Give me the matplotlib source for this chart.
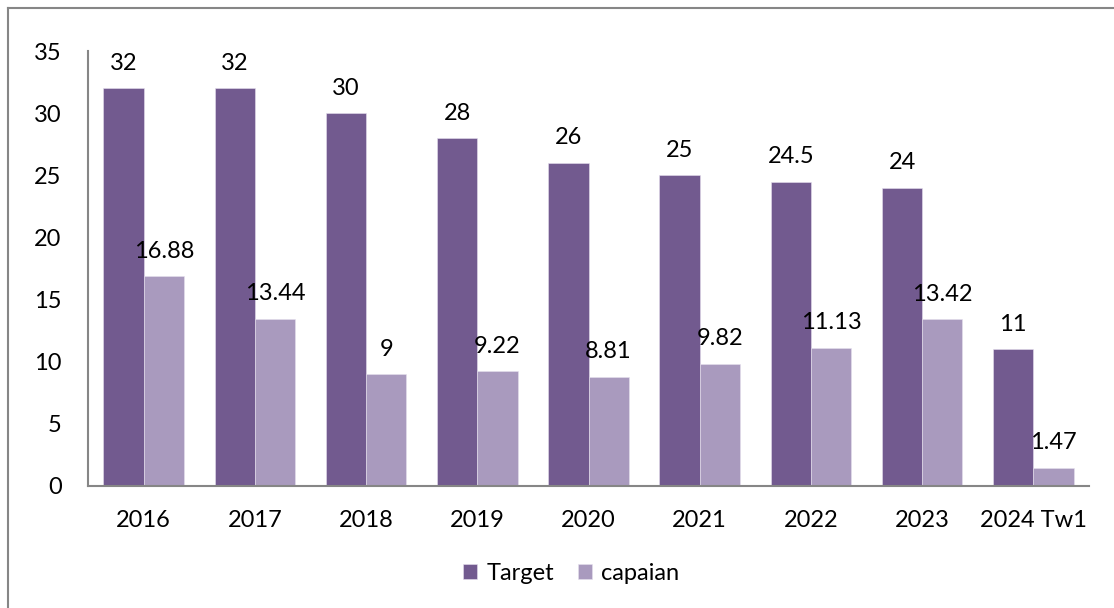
import matplotlib.pyplot as plt
from matplotlib.lines import Line2D
import numpy as np

plt.rcParams['font.family'] = ['Lato', 'DejaVu Sans']

categories = ['2016', '2017', '2018', '2019', '2020', '2021', '2022', '2023', '2024 Tw1']
target = [32, 32, 30, 28, 26, 25, 24.5, 24, 11]
capaian = [16.88, 13.44, 9, 9.22, 8.81, 9.82, 11.13, 13.42, 1.47]

TARGET_COLOR = '#725a8f'
CAPAIAN_COLOR = '#a99abe'
GRID_GRAY = '#868686'
FS = 17


def fmt(v):
    return f'{v:g}'


def main():
    W, H = 1114, 608
    fig = plt.figure(figsize=(W / 100, H / 100), dpi=100)
    ax = fig.add_axes([88 / W, 1 - 486 / H, (1089 - 88) / W, (486 - 51) / H])

    x = np.arange(len(categories))
    bw = 0.3625
    b1 = ax.bar(x - bw / 2, target, bw, color=TARGET_COLOR, label='Target',
                edgecolor='#e6e0ee', linewidth=0.4)
    b2 = ax.bar(x + bw / 2, capaian, bw, color=CAPAIAN_COLOR, label='capaian',
                edgecolor='#e6e0ee', linewidth=0.4)

    for bars, vals in ((b1, target), (b2, capaian)):
        for rect, v in zip(bars, vals):
            ax.annotate(fmt(v), (rect.get_x() + rect.get_width() / 2, v),
                        xytext=(0, 18), textcoords='offset points',
                        ha='center', va='center', fontsize=FS)

    ax.set_xlim(-0.5, len(categories) - 0.5)
    ax.set_ylim(0, 35)
    ax.set_yticks(range(0, 36, 5))
    ax.set_xticks(x)
    ax.set_xticklabels(categories)
    ax.tick_params(axis='both', length=0, labelsize=FS)
    ax.tick_params(axis='y', pad=19)
    ax.tick_params(axis='x', pad=17)

    for s in ('top', 'right'):
        ax.spines[s].set_visible(False)
    for s in ('left', 'bottom'):
        ax.spines[s].set_color(GRID_GRAY)
        ax.spines[s].set_linewidth(1.5)

    ax.legend(loc='center', bbox_to_anchor=(571 / W, 1 - 573 / H),
              bbox_transform=fig.transFigure, ncol=2, frameon=False,
              fontsize=FS, handlelength=0.6, handleheight=0.6,
              handletextpad=0.4, columnspacing=1.0)

    # chart area border (only top and left show in the reference)
    fig.add_artist(Line2D([8 / W, 8 / W], [0, 1 - 8 / H], color=GRID_GRAY,
                          linewidth=1.5, transform=fig.transFigure))
    fig.add_artist(Line2D([8 / W, 1], [1 - 8 / H, 1 - 8 / H], color=GRID_GRAY,
                          linewidth=1.5, transform=fig.transFigure))

    fig.savefig('out.png', dpi=100, facecolor='white')


if __name__ == '__main__':
    main()
